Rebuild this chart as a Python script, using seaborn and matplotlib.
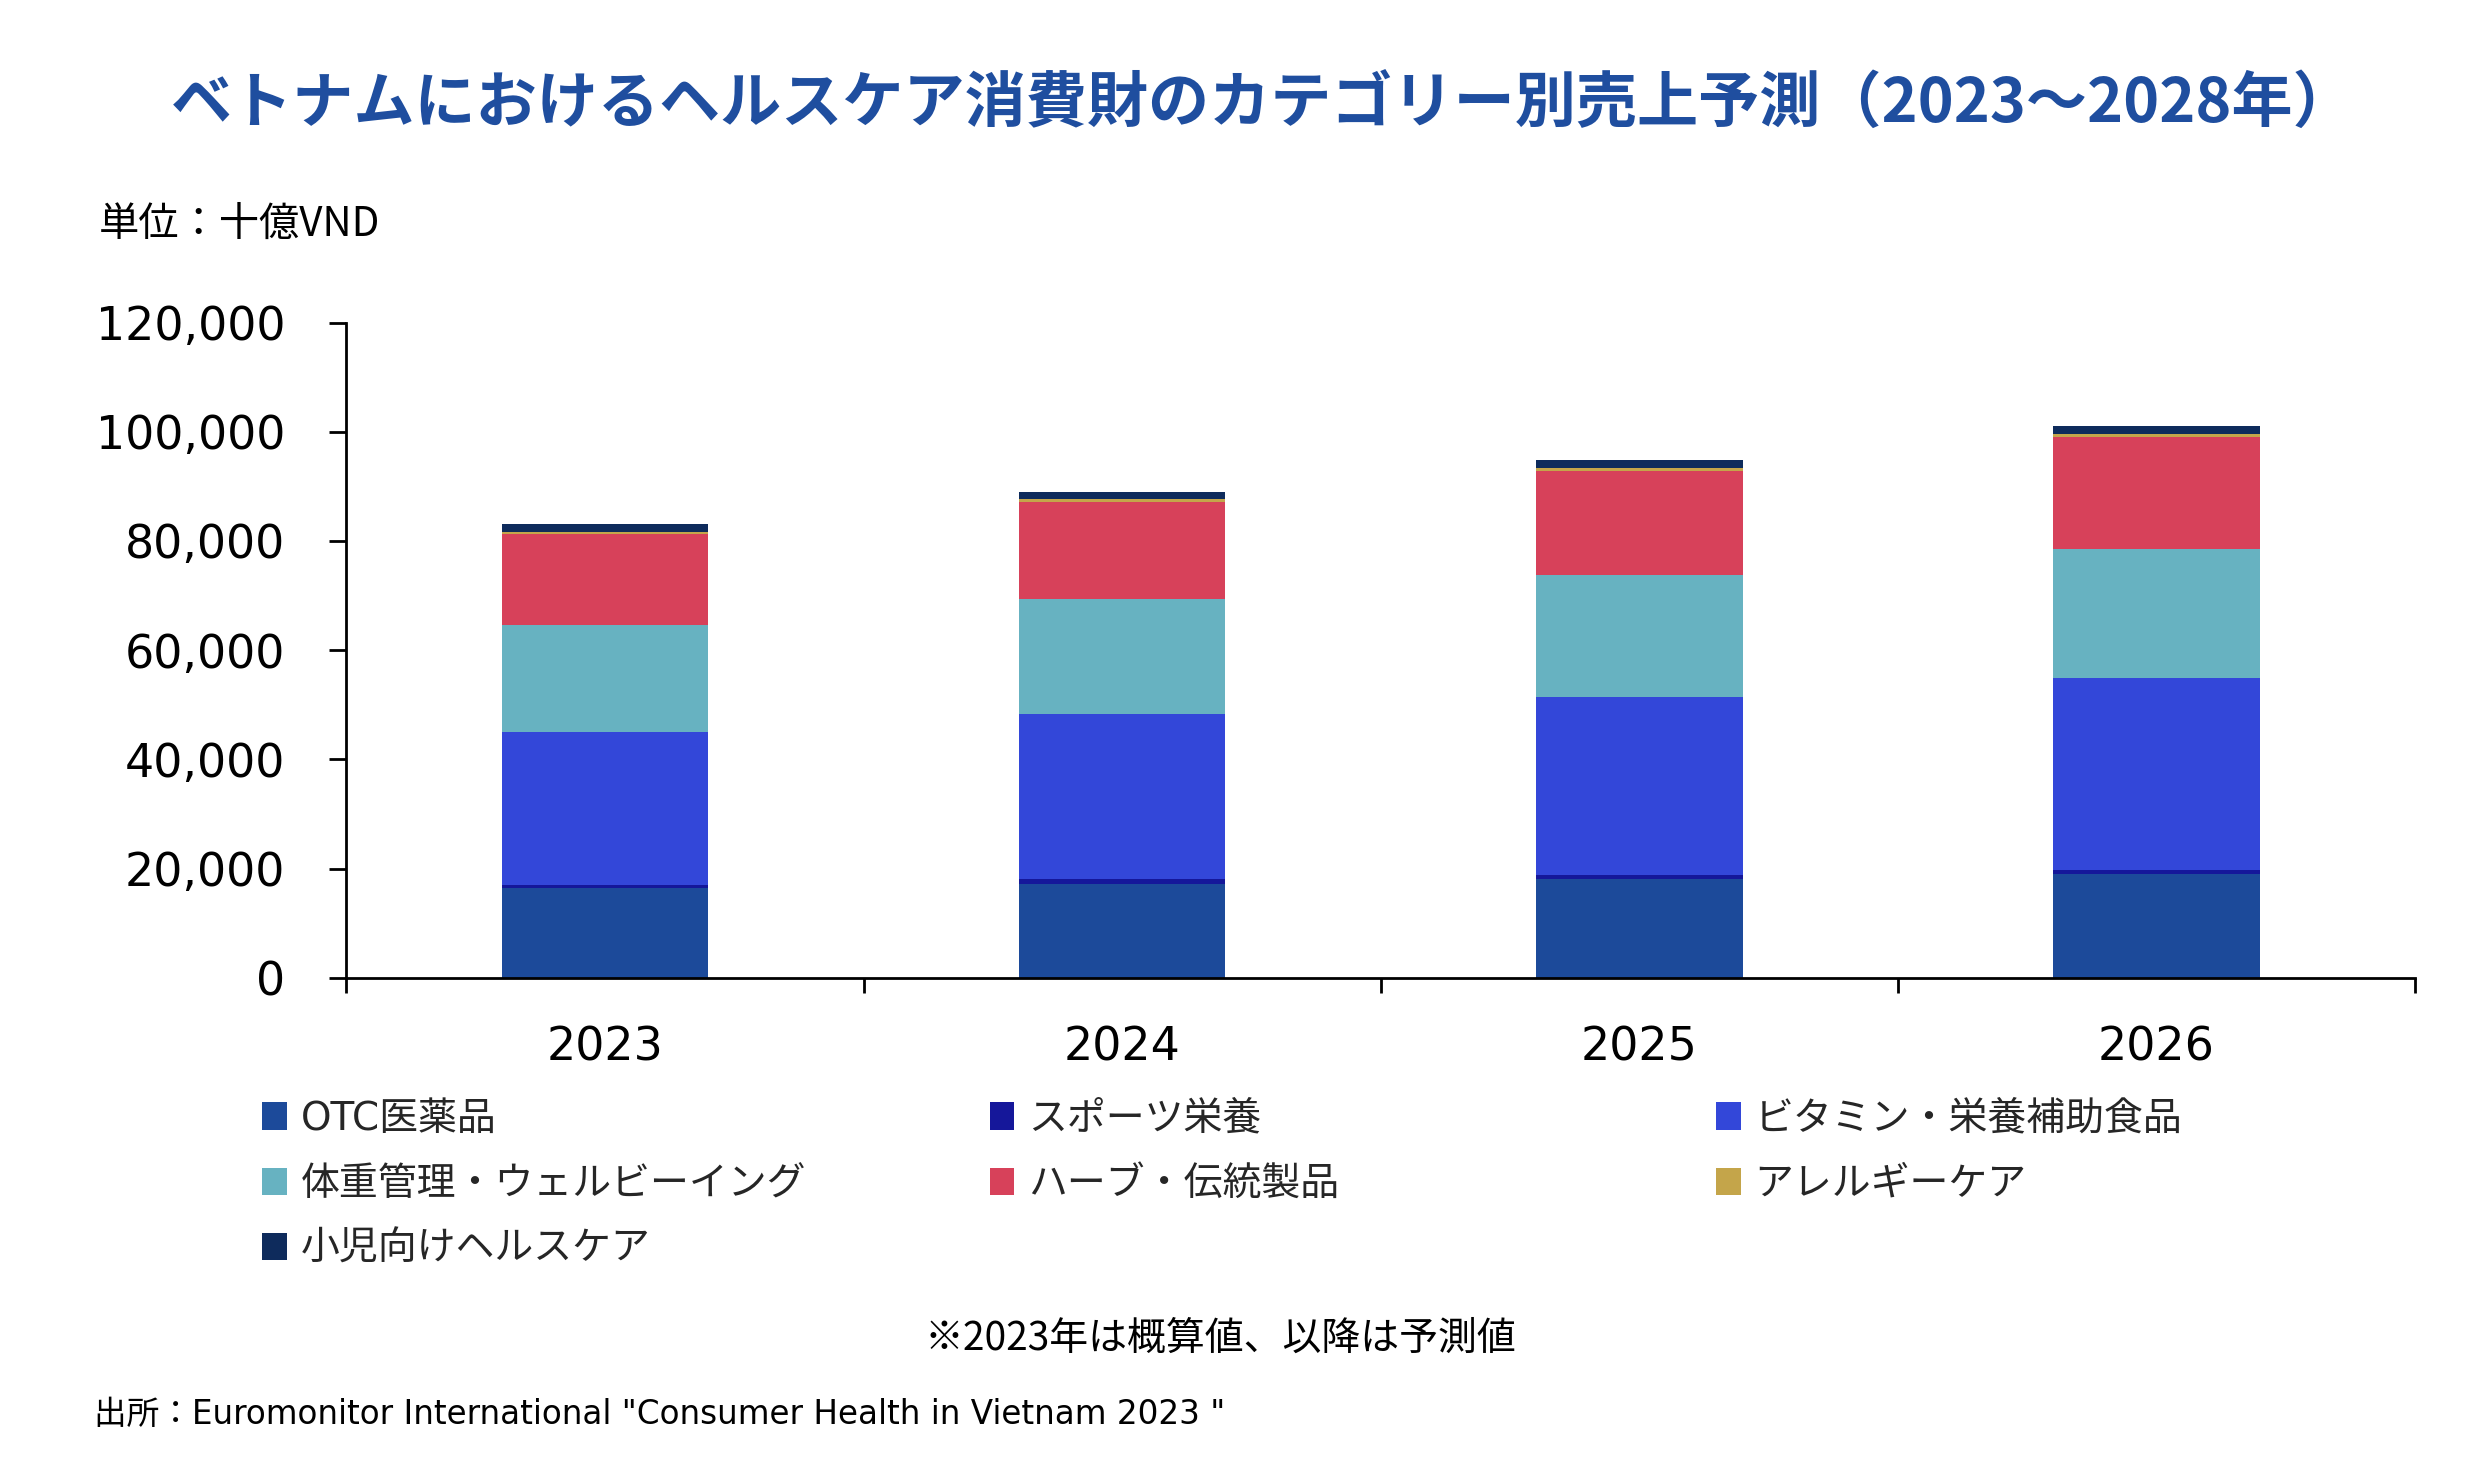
import matplotlib
matplotlib.use("Agg")
import matplotlib.pyplot as plt
import matplotlib.patches as mpatches
from matplotlib.ticker import FuncFormatter, MultipleLocator
import seaborn as sns
import pandas as pd
import numpy as np

# ---- data (十億VND) ----
years = ["2023", "2024", "2025", "2026"]
categories = ["OTC医薬品", "スポーツ栄養", "ビタミン・栄養補助食品", "体重管理・ウェルビーイング",
              "ハーブ・伝統製品", "アレルギーケア", "小児向けヘルスケア"]
otc = [16420, 17200, 18040, 19020]
sports = [560, 840, 840, 770]
vitamins = [27950, 30350, 32590, 35180]
weight = [19640, 20910, 22380, 23640]
herbal = [16770, 17900, 18950, 20350]
allergy = [340, 420, 560, 560]
pediatric = [1400, 1400, 1470, 1540]
colors = ["#1C4A9A", "#15179A", "#3347D9", "#67B2C1", "#D7415A", "#C4A54A", "#0E2B5C"]

series = [otc, sports, vitamins, weight, herbal, allergy, pediatric]

rows = []
for cat, vals in zip(categories, series):
    for y, v in zip(years, vals):
        rows.append({"year": y, "category": cat, "value": v})
df = pd.DataFrame(rows)
df["category"] = pd.Categorical(df["category"], categories=categories, ordered=True)
df = df.sort_values(["year", "category"])
df["cum"] = df.groupby("year")["value"].cumsum()

sns.set_style("ticks")
plt.rcParams["font.family"] = ["Noto Sans CJK JP", "DejaVu Sans"]

fig = plt.figure(figsize=(24.8, 14.66), dpi=100)
ax = fig.add_axes([0.1397, 0.333, 0.834, 0.447])

for cat, col in reversed(list(zip(categories, colors))):
    sub = df[df["category"] == cat]
    sns.barplot(data=sub, x="year", y="cum", order=years, color=col, width=0.4,
                saturation=1, errorbar=None, ax=ax, linewidth=0)

ax.set_xlim(-0.5, 3.5)
ax.set_ylim(0, 120000)
ax.set_xlabel("")
ax.set_ylabel("")
ax.yaxis.set_major_locator(MultipleLocator(20000))
ax.yaxis.set_major_formatter(FuncFormatter(lambda v, p: f"{int(v):,}"))
for s in ["top", "right"]:
    ax.spines[s].set_visible(False)
for s in ["left", "bottom"]:
    ax.spines[s].set_linewidth(2)
    ax.spines[s].set_color("black")

for lab in ax.get_yticklabels() + ax.get_xticklabels():
    lab.set_fontfamily(["DejaVu Sans"])
ax.tick_params(axis="y", length=12, width=2, pad=32, labelsize=33, colors="black")
ax.tick_params(axis="x", which="major", length=0, pad=34, labelsize=33, colors="black")
ax.set_xticks([-0.5, 0.5, 1.5, 2.5, 3.5], minor=True)
ax.tick_params(axis="x", which="minor", length=11, width=2, direction="out", color="black")

# title & texts
fig.text(0.509, 0.928, "ベトナムにおけるヘルスケア消費財のカテゴリー別売上予測（2023～2028年）",
         ha="center", va="center", fontsize=44, fontweight="bold", color="#1F4E9F")
fig.text(0.040, 0.847, "単位：十億VND", ha="left", va="center", fontsize=29, color="black")
fig.text(0.492, 0.087, "※2023年は概算値、以降は予測値", ha="center", va="center",
         fontsize=28, color="black")
fig.text(0.038, 0.035, "出所：Euromonitor International \"Consumer Health in Vietnam 2023 \"",
         ha="left", va="center", fontsize=23.5, color="black",
         family=["DejaVu Sans", "Noto Sans CJK JP"])

# legend: three columns, row-major order
handles = [mpatches.Patch(facecolor=c, edgecolor="none", label=l) for l, c in zip(categories, colors)]
col_groups = [[0, 3, 6], [1, 4], [2, 5]]
col_x = [0.1056, 0.399, 0.692]
for grp, x in zip(col_groups, col_x):
    leg = fig.legend(handles=[handles[i] for i in grp], loc="upper left",
                     bbox_to_anchor=(x, 0.250), frameon=False,
                     handlelength=0.64, handleheight=0.70, handletextpad=0.35,
                     labelspacing=0.70, borderpad=0, borderaxespad=0,
                     prop={"family": ["DejaVu Sans", "Noto Sans CJK JP"], "size": 28})

fig.savefig("out.png", dpi=100)
